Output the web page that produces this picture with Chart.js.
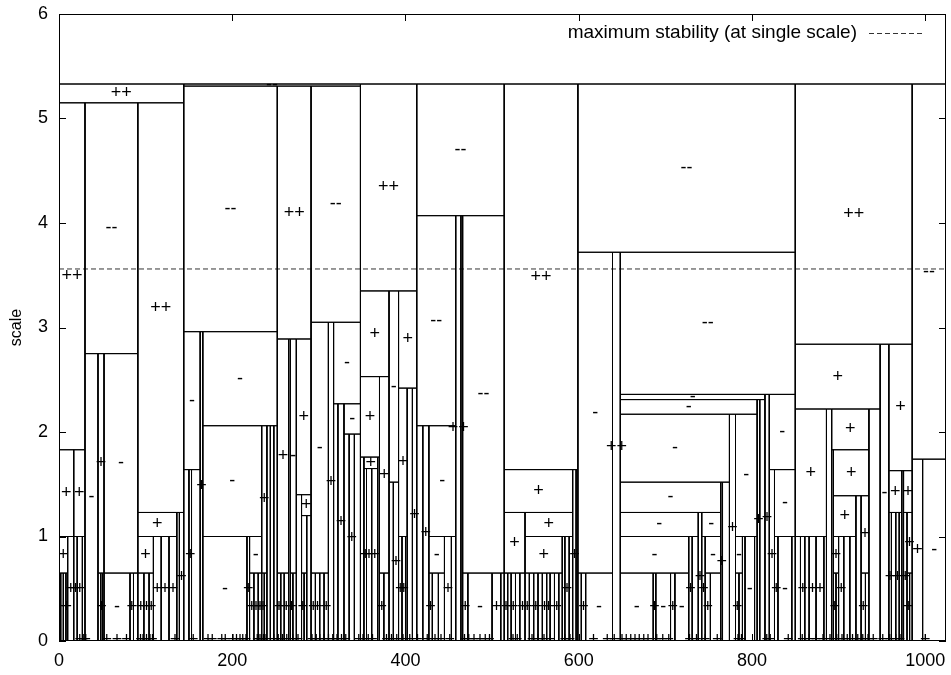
<!DOCTYPE html>
<html>
<head>
<meta charset="utf-8">
<script src="https://cdn.jsdelivr.net/npm/chart.js@4.4.1/dist/chart.umd.min.js"></script>
<style>
  body { margin: 0; background: #fff; }
</style>
</head>
<body>
<canvas id="tree" width="951" height="675"></canvas>
<script>
// scale-space tree: each box is [x from, x to, scale low, scale high, mark]
var boxes = [
  [0,1024,5.33,6,''],
  [0,144,5.15,5.33,'++'],
  [144,348,5.31,5.33,'--'],
  [348,413,3.35,5.33,'++'],
  [413,514,4.07,5.33,'--'],
  [514,599,1.64,5.33,'++'],
  [599,850,3.72,5.33,'--'],
  [850,985,2.84,5.33,'++'],
  [985,1024,1.74,5.33,'--'],
  // 0 - 144
  [0,30,1.83,5.15,'++'],
  [30,91,2.75,5.15,'--'],
  [91,144,1.23,5.15,'++'],
  [0,17,1.0,1.83,'+'],
  [17,30,1.0,1.83,'+'],
  [0,10,0.65,1.0,'+'],
  [10,17,0,1.0,'+'],
  [17,21,0,1.0,'+'],
  [21,27,0,1.0,'+'],
  [27,30,0,1.0,''],
  [0,2,0,0.65,'+'],
  [2,5,0,0.65,''],
  [5,8,0,0.65,''],
  [8,10,0,0.65,'+'],
  [30,45,0,2.75,'-'],
  [45,52,0.65,2.75,'+'],
  [52,91,0.65,2.75,'-'],
  [45,48,0,0.65,''],
  [48,50,0,0.65,'+'],
  [50,52,0,0.65,''],
  [52,82,0,0.65,'-'],
  [82,86,0,0.65,'+'],
  [86,91,0,0.65,''],
  [91,136,1.0,1.23,'+'],
  [136,139,0,1.23,''],
  [139,144,0,1.23,'+'],
  [91,109,0.65,1.0,'+'],
  [109,118,0,1.0,'+'],
  [118,127,0,1.0,'+'],
  [127,136,0,1.0,'+'],
  [91,98,0,0.65,'+'],
  [98,104,0,0.65,'+'],
  [104,109,0,0.65,'+'],
  // 144 - 348
  [144,252,2.96,5.31,'--'],
  [252,291,2.89,5.31,'++'],
  [291,348,3.05,5.31,'--'],
  [144,163,1.64,2.96,'-'],
  [163,166,0,2.96,'+'],
  [166,252,2.06,2.96,'-'],
  [144,150,0,1.64,''],
  [150,153,0,1.64,'+'],
  [153,163,0,1.64,''],
  [166,234,1.0,2.06,'-'],
  [234,240,0.65,2.06,'+'],
  [240,244,0,2.06,''],
  [244,248,0,2.06,''],
  [248,252,0,2.06,''],
  [166,217,0,1.0,'-'],
  [217,220,0,1.0,'+'],
  [220,234,0.65,1.0,'-'],
  [220,225,0,0.65,'+'],
  [225,230,0,0.65,'+'],
  [230,234,0,0.65,'+'],
  [234,237,0,0.65,'+'],
  [237,240,0,0.65,''],
  [252,265,0.65,2.89,'+'],
  [265,267,0,2.89,''],
  [267,274,0.65,2.89,'-'],
  [274,291,1.4,2.89,'+'],
  [274,280,0,1.4,''],
  [280,291,1.2,1.4,'+'],
  [280,286,0.65,1.2,''],
  [286,291,0,1.2,''],
  [280,283,0,0.65,'+'],
  [283,286,0,0.65,''],
  [252,256,0,0.65,'+'],
  [256,260,0,0.65,''],
  [260,265,0,0.65,'+'],
  [267,270,0,0.65,'+'],
  [270,274,0,0.65,''],
  [291,311,0.65,3.05,'-'],
  [311,317,0,3.05,'+'],
  [317,348,2.27,3.05,'-'],
  [317,322,0,2.27,''],
  [322,329,0,2.27,'+'],
  [329,348,1.98,2.27,'-'],
  [329,335,0,1.98,''],
  [335,341,0,1.98,'+'],
  [341,348,0,1.98,''],
  [291,296,0,0.65,'+'],
  [296,301,0,0.65,'+'],
  [301,306,0,0.65,''],
  [306,311,0,0.65,'+'],
  // 348 - 413
  [348,381,2.53,3.35,'+'],
  [381,392,1.52,3.35,'-'],
  [392,413,2.42,3.35,'+'],
  [348,370,1.76,2.53,'+'],
  [370,381,0.65,2.53,'+'],
  [348,352,0,1.76,''],
  [352,368,1.65,1.76,'+'],
  [368,370,0,1.76,''],
  [352,355,0,1.65,'+'],
  [355,361,0,1.65,'+'],
  [361,368,0,1.65,'+'],
  [370,375,0,0.65,'+'],
  [375,381,0,0.65,''],
  [381,386,0,1.52,''],
  [386,392,0,1.52,'+'],
  [392,402,1.0,2.42,'+'],
  [402,408,0,2.42,''],
  [408,413,0,2.42,'+'],
  [392,396,0,1.0,'+'],
  [396,400,0,1.0,'+'],
  [400,402,0,1.0,''],
  // 413 - 514
  [413,458,2.06,4.07,'--'],
  [458,464,0,4.07,'++'],
  [464,466,0,4.07,''],
  [466,514,0.65,4.07,'--'],
  [413,420,0,2.06,''],
  [420,427,0,2.06,'+'],
  [427,458,1.0,2.06,'-'],
  [427,445,0.65,1.0,'-'],
  [445,453,0,1.0,'+'],
  [453,458,0,1.0,''],
  [427,431,0,0.65,'+'],
  [431,438,0,0.65,''],
  [438,445,0,0.65,''],
  [466,472,0,0.65,'+'],
  [472,500,0,0.65,'-'],
  [500,510,0,0.65,'+'],
  [510,514,0,0.65,''],
  // 514 - 599
  [514,593,1.23,1.64,'+'],
  [593,597,0,1.64,'+'],
  [597,599,0,1.64,''],
  [514,538,0.65,1.23,'+'],
  [538,593,1.0,1.23,'+'],
  [538,581,0.65,1.0,'+'],
  [581,584,0,1.0,''],
  [584,589,0,1.0,'+'],
  [589,593,0,1.0,''],
  [514,518,0,0.65,'+'],
  [518,522,0,0.65,''],
  [522,527,0,0.65,'+'],
  [527,532,0,0.65,''],
  [532,538,0,0.65,'+'],
  [538,543,0,0.65,'+'],
  [543,548,0,0.65,''],
  [548,553,0,0.65,'+'],
  [553,558,0,0.65,''],
  [558,563,0,0.65,'+'],
  [563,567,0,0.65,'+'],
  [567,572,0,0.65,''],
  [572,577,0,0.65,'+'],
  [577,581,0,0.65,''],
  // 599 - 850
  [599,639,0.65,3.72,'-'],
  [639,648,0,3.72,'++'],
  [648,850,2.36,3.72,'--'],
  [599,603,0,0.65,''],
  [603,608,0,0.65,'+'],
  [608,639,0,0.65,'-'],
  [648,815,2.31,2.36,'-'],
  [815,820,0,2.36,'+'],
  [820,850,1.64,2.36,'-'],
  [648,806,2.17,2.31,'-'],
  [806,809,0,2.31,'+'],
  [809,815,0,2.31,''],
  [648,774,1.52,2.17,'-'],
  [774,781,0,2.17,'+'],
  [781,806,1.0,2.17,'-'],
  [648,764,1.23,1.52,'-'],
  [764,766,0,1.52,'+'],
  [766,774,0,1.52,''],
  [648,738,1.0,1.23,'-'],
  [738,742,0,1.23,'+'],
  [742,764,1.0,1.23,'-'],
  [648,727,0.65,1.0,'-'],
  [727,731,0,1.0,'+'],
  [731,738,0,1.0,''],
  [742,746,0,1.0,'+'],
  [746,764,0.65,1.0,'-'],
  [746,752,0,0.65,'+'],
  [752,764,0,0.65,''],
  [648,686,0,0.65,'-'],
  [686,689,0,0.65,'+'],
  [689,706,0,0.65,'-'],
  [706,711,0,0.65,'+'],
  [711,727,0,0.65,'-'],
  [781,789,0.65,1.0,'-'],
  [789,792,0,1.0,''],
  [792,803,0,1.0,'-'],
  [803,806,0,1.0,''],
  [781,785,0,0.65,'+'],
  [785,789,0,0.65,''],
  [820,826,0,1.64,'+'],
  [826,850,1.0,1.64,'-'],
  [826,830,0,1.0,'+'],
  [830,846,0,1.0,'-'],
  [846,850,0,1.0,''],
  // 850 - 985
  [850,948,2.22,2.84,'+'],
  [948,958,0,2.84,'-'],
  [958,985,1.63,2.84,'+'],
  [850,886,1.0,2.22,'+'],
  [886,892,0,2.22,''],
  [892,935,1.83,2.22,'+'],
  [935,948,0,2.22,''],
  [892,894,0,1.83,''],
  [894,935,1.39,1.83,'+'],
  [894,920,1.0,1.39,'+'],
  [920,926,0,1.39,''],
  [926,935,0.65,1.39,'+'],
  [926,931,0,0.65,'+'],
  [931,935,0,0.65,''],
  [894,900,0.65,1.0,'+'],
  [900,906,0,1.0,'+'],
  [906,913,0,1.0,''],
  [913,920,0,1.0,''],
  [894,897,0,0.65,'+'],
  [897,900,0,0.65,''],
  [850,856,0,1.0,''],
  [856,861,0,1.0,'+'],
  [861,866,0,1.0,''],
  [866,874,0,1.0,'+'],
  [874,883,0,1.0,'+'],
  [883,886,0,1.0,''],
  [958,973,1.23,1.63,'+'],
  [973,975,0,1.63,''],
  [975,985,1.23,1.63,'+'],
  [958,961,0,1.23,'+'],
  [961,966,0,1.23,''],
  [966,970,0,1.23,'+'],
  [970,973,0,1.23,''],
  [975,979,0,1.23,'+'],
  [979,985,0.65,1.23,'+'],
  [979,982,0,0.65,'+'],
  [982,985,0,0.65,''],
  // 985 - 1024
  [985,997,0,1.74,'+'],
  [997,1024,0,1.74,'-']
];

// tiny leaves sitting on the x axis (only their mark shows)
var bottomMarks = [24, 28, 31, 55, 67, 78, 94, 97, 101, 105, 108, 134, 155, 172, 177, 188, 192,
  201, 205, 209, 212, 216, 229, 232, 236, 239, 248, 253, 258, 263, 270, 276, 292, 297, 301, 306,
  311, 316, 321, 326, 331, 346, 351, 357, 362, 378, 384, 390, 397, 405, 414, 425, 434, 441, 451,
  468, 473, 479, 486, 492, 497, 524, 529, 546, 553, 560, 567, 584, 590, 617, 633, 641, 650, 655,
  660, 665, 670, 675, 680, 690, 697, 704, 728, 736, 746, 760, 784, 788, 817, 821, 842, 858, 866,
  874, 882, 890, 898, 904, 910, 916, 922, 928, 934, 940, 951, 959, 966, 971, 1000];

var stableScale = 3.56;
var xTickValues = [0, 200, 400, 600, 800, 1000];
var yTickValues = [0, 1, 2, 3, 4, 5, 6];
var legendText = 'maximum stability (at single scale)';
var FONT = '"Liberation Sans", Arial, Helvetica, sans-serif';

function outline(list) {
  var pts = [];
  list.forEach(function (b) {
    pts.push({x: b[0], y: b[2]}, {x: b[1], y: b[2]}, {x: b[1], y: b[3]},
             {x: b[0], y: b[3]}, {x: b[0], y: b[2]}, {x: b[0], y: null});
  });
  return pts;
}

function noPadding(s) {
  s.paddingTop = 0; s.paddingBottom = 0; s.paddingLeft = 0; s.paddingRight = 0;
}

var treePlugin = {
  id: 'treeMarks',
  afterDatasetsDraw: function (chart) {
    var ctx = chart.ctx, xs = chart.scales.x, ys = chart.scales.y, a = chart.chartArea;
    ctx.save();
    ctx.beginPath();
    ctx.rect(a.left, a.top, a.right - a.left, a.bottom - a.top);
    ctx.clip();
    ctx.font = '18px ' + FONT;
    ctx.fillStyle = '#000';
    ctx.textAlign = 'center';
    ctx.textBaseline = 'middle';
    boxes.forEach(function (b) {
      if (!b[4]) return;
      ctx.fillText(b[4], xs.getPixelForValue((b[0] + b[1]) / 2), ys.getPixelForValue((b[2] + b[3]) / 2));
    });
    bottomMarks.forEach(function (x) {
      ctx.fillText('+', xs.getPixelForValue(x), ys.getPixelForValue(0.01));
    });
    ctx.restore();
  },
  afterDraw: function (chart) {
    var ctx = chart.ctx, xs = chart.scales.x, ys = chart.scales.y, a = chart.chartArea;
    ctx.save();
    ctx.strokeStyle = '#000';
    ctx.lineWidth = 1;
    ctx.strokeRect(a.left + 0.5, a.top + 0.5, a.right - a.left - 1, a.bottom - a.top - 1);
    ctx.beginPath();
    xTickValues.forEach(function (v) {
      var px = Math.round(xs.getPixelForValue(v)) + 0.5;
      ctx.moveTo(px, a.bottom); ctx.lineTo(px, a.bottom - 7);
      ctx.moveTo(px, a.top); ctx.lineTo(px, a.top + 7);
    });
    yTickValues.forEach(function (v) {
      var py = Math.round(ys.getPixelForValue(v)) + 0.5;
      ctx.moveTo(a.left, py); ctx.lineTo(a.left + 7, py);
      ctx.moveTo(a.right, py); ctx.lineTo(a.right - 7, py);
    });
    ctx.stroke();

    // key, top right
    ctx.font = '19px ' + FONT;
    ctx.fillStyle = '#000';
    ctx.textAlign = 'right';
    ctx.textBaseline = 'middle';
    ctx.fillText(legendText, a.right - 89, a.top + 19);
    ctx.strokeStyle = '#333';
    ctx.setLineDash([5, 3]);
    ctx.beginPath();
    ctx.moveTo(a.right - 77, a.top + 19.5);
    ctx.lineTo(a.right - 22, a.top + 19.5);
    ctx.stroke();
    ctx.restore();
  }
};

new Chart(document.getElementById('tree'), {
  type: 'scatter',
  data: {
    datasets: [{
      data: outline(boxes),
      showLine: true,
      borderColor: '#000',
      borderWidth: 1,
      pointRadius: 0,
      spanGaps: false
    }, {
      data: [{x: 0, y: stableScale}, {x: 1024, y: stableScale}],
      showLine: true,
      borderColor: '#333',
      borderWidth: 1,
      borderDash: [5, 3],
      pointRadius: 0
    }]
  },
  options: {
    responsive: false,
    animation: false,
    devicePixelRatio: 1,
    layout: { padding: { top: 14, right: 5, left: 0, bottom: 0 } },
    plugins: { legend: { display: false }, tooltip: { enabled: false } },
    scales: {
      x: {
        type: 'linear', min: 0, max: 1024,
        grid: { display: false, drawTicks: false },
        border: { display: false },
        ticks: { padding: 9, color: '#000', font: { size: 18, family: FONT },
                 callback: function (v) { return String(v); } },
        afterBuildTicks: function (s) { s.ticks = xTickValues.map(function (v) { return {value: v}; }); },
        afterFit: function (s) { s.height = 34; noPadding(s); }
      },
      y: {
        min: 0, max: 6,
        grid: { display: false, drawTicks: false },
        border: { display: false },
        ticks: { padding: 11, color: '#000', font: { size: 18, family: FONT },
                 callback: function (v) { return String(v); } },
        afterBuildTicks: function (s) { s.ticks = yTickValues.map(function (v) { return {value: v}; }); },
        title: { display: true, text: 'scale', color: '#000', font: { size: 16, family: FONT }, padding: { top: 7, bottom: 0 } },
        afterFit: function (s) { s.width = 59; noPadding(s); }
      }
    }
  },
  plugins: [treePlugin]
});
</script>
</body>
</html>
